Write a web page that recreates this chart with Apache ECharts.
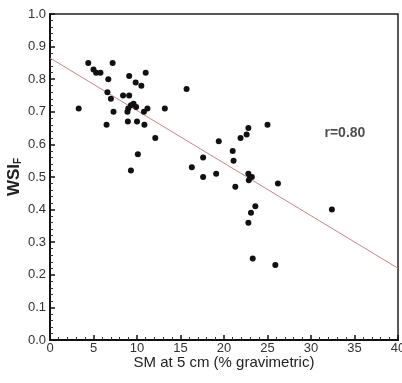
<!DOCTYPE html>
<html><head><meta charset="utf-8">
<script src="https://cdn.jsdelivr.net/npm/echarts@6/dist/echarts.min.js"></script>
<style>html,body{margin:0;padding:0;background:#fff}#c{width:402px;height:383px}</style>
</head><body><div id="c"></div>
<script>
const smX = [3.3,4.4,5.0,5.3,5.8,7.2,6.7,6.6,7.0,7.3,6.5,8.4,9.1,9.1,8.9,9.0,9.3,9.6,9.9,8.95,9.3,9.85,10.5,10.0,10.1,11.0,10.8,11.2,10.85,12.1,13.2,15.7,16.3,17.6,17.6,19.1,19.4,21.0,21.1,21.3,21.9,22.6,22.8,22.8,22.85,23.0,23.2,25.0,26.2,23.6,23.1,22.8,23.3,25.9,32.4];
const wsiY = [0.71,0.85,0.83,0.82,0.82,0.85,0.80,0.76,0.74,0.70,0.66,0.75,0.75,0.81,0.70,0.71,0.72,0.725,0.715,0.67,0.52,0.79,0.78,0.67,0.57,0.82,0.70,0.71,0.66,0.62,0.71,0.77,0.53,0.56,0.50,0.51,0.61,0.58,0.55,0.47,0.62,0.63,0.65,0.51,0.49,0.50,0.50,0.66,0.48,0.41,0.39,0.36,0.25,0.23,0.40];
const fitX = [0, 40];
const fitY = [0.865, 0.22];
const xTicks = [0,5,10,15,20,25,30,35,40];
const yTicks = [0.0,0.1,0.2,0.3,0.4,0.5,0.6,0.7,0.8,0.9,1.0];
const rText = 'r=0.80';
const rPos = [33.9, 0.635];

const chart = echarts.init(document.getElementById('c'));
const font = 'Liberation Sans, Arial, sans-serif';
chart.setOption({
  animation: false,
  grid: {left: 50, right: 4, top: 14, bottom: 43, outerBoundsMode: 'none', containLabel: false, show: true, borderColor: '#222', borderWidth: 1.5, backgroundColor: 'transparent'},
  xAxis: {
    type: 'value', min: xTicks[0], max: xTicks[xTicks.length-1], interval: 5,
    name: 'SM at 5 cm (% gravimetric)', nameLocation: 'middle', nameGap: 15, nameMoveOverlap: false,
    nameTextStyle: {fontFamily: font, fontSize: 15, color: '#222'},
    axisLine: {lineStyle: {color: '#111', width: 2}},
    axisTick: {inside: true, length: 5, lineStyle: {color: '#111', width: 1.5}},
    minorTick: {show: true, splitNumber: 5, length: 3, lineStyle: {color: '#333', width: 1}},
    splitLine: {show: false},
    axisLabel: {fontFamily: font, fontSize: 13, color: '#333', margin: 2}
  },
  yAxis: {
    type: 'value', min: yTicks[0], max: yTicks[yTicks.length-1], interval: 0.1,
    name: '{b|WSI}{s|F}', nameLocation: 'middle', nameGap: 27, nameRotate: 90, nameMoveOverlap: false,
    nameTextStyle: {rich: {
      b: {fontFamily: font, fontSize: 17, fontWeight: 'bold', color: '#222', lineHeight: 18},
      s: {fontFamily: font, fontSize: 10, fontWeight: 'bold', color: '#222', verticalAlign: 'bottom', lineHeight: 18}
    }},
    axisLine: {lineStyle: {color: '#111', width: 2}},
    axisTick: {inside: true, length: 5, lineStyle: {color: '#111', width: 1.5}},
    minorTick: {show: true, splitNumber: 5, length: 3, lineStyle: {color: '#333', width: 1}},
    splitLine: {show: false},
    axisLabel: {fontFamily: font, fontSize: 13, color: '#333', margin: 4, formatter: v => v.toFixed(1)}
  },
  series: [
    {type: 'line', data: fitX.map((x,i)=>[x, fitY[i]]), symbol: 'none', lineStyle: {color: '#c98484', width: 1}, z: 1},
    {type: 'scatter', data: smX.map((x,i)=>[x, wsiY[i]]), symbolSize: 6, itemStyle: {color: '#111', opacity: 1}, z: 2},
    {type: 'scatter', data: [rPos], symbolSize: 2, itemStyle: {color: 'rgba(0,0,0,0)'}, silent: true, z: 3,
     label: {show: true, position: 'inside', formatter: rText, fontFamily: font, fontSize: 14, fontWeight: 'bold', color: '#222'}}
  ]
});
</script></body></html>
